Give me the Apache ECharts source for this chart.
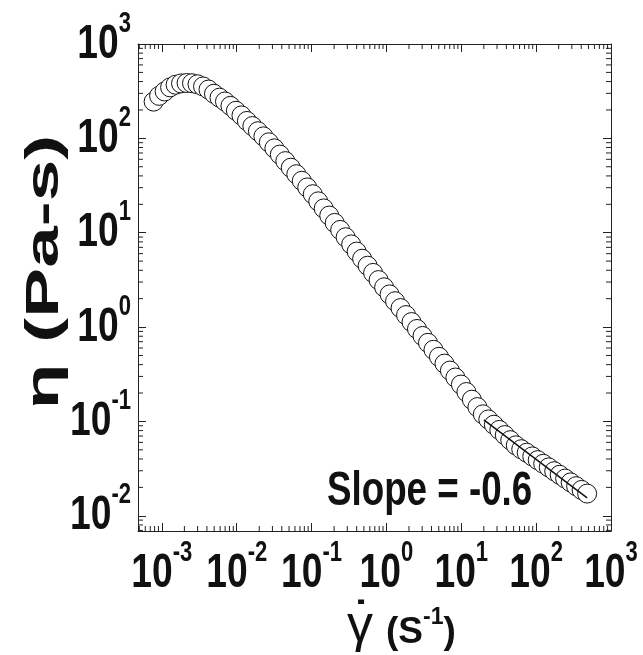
<!DOCTYPE html>
<html><head><meta charset="utf-8">
<script src="https://cdn.jsdelivr.net/npm/echarts@6/dist/echarts.min.js"></script>
<style>html,body{margin:0;padding:0;background:#fff}#c{width:643px;height:655px}</style>
</head><body><div id="c"></div>
<script>
// shear rate (1/s)
const shearRate = [0.000776,0.000918,0.001089,0.001288,0.001524,0.001803,0.002138,0.002529,0.002992,0.003548,
  0.004198,0.004966,0.005888,0.006966,0.008241,0.00975,0.01156,0.01368,0.01618,0.01919,
  0.0227,0.02685,0.03184,0.03767,0.04457,0.05272,0.06252,0.07396,0.0875,0.1038,
  0.1227,0.1452,0.1722,0.2037,0.241,0.2851,0.3381,0.3999,0.4732,0.561,
  0.6637,0.7852,0.9311,1.102,1.303,1.542,1.828,2.163,2.559,3.034,
  3.589,4.246,5.035,5.957,7.047,8.337,9.886,11.7,13.84,16.41,
  19.41,22.96,27.23,32.21,38.11,45.08,53.46,63.24,74.82,88.72,
  105,124.2,147.2,174.2,206.1,243.8,289.1,342,404.6,479.7];
// viscosity (Pa-s)
const viscosity = [245,282,314,347,370,382,386,384,374,355,
  329,297,270,246,221,196,175,153,135,119,
  105,90.8,78.4,67.3,57.4,48.9,41.7,35.5,30.2,25.6,
  21.5,18.1,15.2,12.7,10.7,8.96,7.52,6.31,5.30,4.47,
  3.75,3.15,2.64,2.22,1.88,1.59,1.34,1.13,0.955,0.805,
  0.681,0.574,0.484,0.410,0.346,0.292,0.246,0.205,0.170,0.142,
  0.119,0.105,0.0923,0.0813,0.0717,0.0633,0.0558,0.0508,0.0466,0.0426,
  0.0389,0.0356,0.0326,0.0297,0.0272,0.0248,0.0226,0.0206,0.0188,0.0172];
// power-law fit line (slope -0.6)
const fitRate = [20, 480];
const fitViscosity = [0.104, 0.0155];
const slopeLabel = 'Slope = -0.6';
const xTitle = ['γ', '(S', '-1', ')'];
const xTitleDot = '˙';
const yTitle = 'η (Pa-s)';
const xTickValues = [1e-3, 1e-2, 1e-1, 1, 1e1, 1e2, 1e3];
const yTickValues = [1e-2, 1e-1, 1, 1e1, 1e2, 1e3];
const xRange = [4.8e-4, 1000];
const yRange = [0.0069, 1000];
const minorMantissas = [2,3,4,5,6,7,8,9];
const xDecades = [-4,-3,-2,-1,0,1,2];
const yDecades = [-3,-2,-1,0,1,2];

const SANS = '"Liberation Sans",Arial,Helvetica,sans-serif';
const INK = '#111';

const points = shearRate.map((x, i) => [x, viscosity[i]]);
const fitLine = fitRate.map((x, i) => [x, fitViscosity[i]]);

const xMinor = [], yMinor = [];
xDecades.forEach(d => minorMantissas.forEach(m => {
  const v = m * Math.pow(10, d);
  if (v > xRange[0] && v < xRange[1]) xMinor.push([v, yRange[0]]);
}));
yDecades.forEach(d => minorMantissas.forEach(m => {
  const v = m * Math.pow(10, d);
  if (v > yRange[0] && v < yRange[1]) yMinor.push([xRange[0], v]);
}));

function supLabel(v) {
  const l = Math.log10(v), e = Math.round(l);
  if (Math.abs(l - e) > 1e-6) return '';
  return '{b|10}{s|' + e + '}';
}
const tickRich = {
  b: {fontFamily: SANS, fontWeight: 'bold', fontSize: 49, lineHeight: 70, fill: INK, color: INK},
  s: {fontFamily: SANS, fontWeight: 'bold', fontSize: 29, lineHeight: 12, verticalAlign: 'top', fill: INK, color: INK}
};
const lineStyle = {color: '#222', width: 1};

function axisX(pos) {
  return {
    type: 'log', position: pos, min: xRange[0], max: xRange[1],
    axisLine: {show: true, onZero: false, lineStyle},
    axisTick: {show: true, inside: true, length: 8, lineStyle},
    splitLine: {show: false}, minorTick: {show: false},
    axisLabel: {show: false}
  };
}
function axisY(pos) {
  return {
    type: 'log', position: pos, min: yRange[0], max: yRange[1],
    axisLine: {show: true, onZero: false, lineStyle},
    axisTick: {show: true, inside: true, length: 8, lineStyle},
    splitLine: {show: false}, minorTick: {show: false},
    axisLabel: {show: false}
  };
}

function xMinorRender(params, api) {
  const cs = params.coordSys;
  const x = api.coord([api.value(0), api.value(1)])[0];
  const b = cs.y + cs.height, t = cs.y;
  return {type: 'group', children: [
    {type: 'line', shape: {x1: x, y1: b, x2: x, y2: b - 5}, style: {stroke: '#222', lineWidth: 1}},
    {type: 'line', shape: {x1: x, y1: t, x2: x, y2: t + 5}, style: {stroke: '#222', lineWidth: 1}}
  ]};
}
function yMinorRender(params, api) {
  const cs = params.coordSys;
  const y = api.coord([api.value(0), api.value(1)])[1];
  const l = cs.x, r = cs.x + cs.width;
  return {type: 'group', children: [
    {type: 'line', shape: {x1: l, y1: y, x2: l + 5, y2: y}, style: {stroke: '#222', lineWidth: 1}},
    {type: 'line', shape: {x1: r, y1: y, x2: r - 5, y2: y}, style: {stroke: '#222', lineWidth: 1}}
  ]};
}

const chart = echarts.init(document.getElementById('c'), null, {renderer: 'canvas'});
chart.setOption({
  animation: false,
  backgroundColor: '#fff',
  grid: {left: 138, right: 32, top: 44, bottom: 124, containLabel: false},
  xAxis: [axisX('bottom'), axisX('top')],
  yAxis: [axisY('left'), axisY('right')],
  series: [
    {type: 'custom', renderItem: xMinorRender, data: xMinor, clip: false, silent: true, z: 1},
    {type: 'custom', renderItem: yMinorRender, data: yMinor, clip: false, silent: true, z: 1},
    {type: 'scatter', data: points, symbol: 'circle', symbolSize: 19, z: 2,
     itemStyle: {color: '#fff', borderColor: '#111', borderWidth: 1, opacity: 1}},
    {type: 'line', data: fitLine, symbol: 'none', z: 3,
     lineStyle: {color: '#111', width: 1.5}}
  ]
});

// tick labels placed through the axes' own scales
const graphics = [];
xTickValues.forEach(v => {
  graphics.push({type: 'text', x: chart.convertToPixel({xAxisIndex: 0}, v), y: 538, scaleX: 0.76, z: 10,
    style: {text: supLabel(v), rich: tickRich, align: 'center', verticalAlign: 'top'}});
});
yTickValues.forEach(v => {
  graphics.push({type: 'text', x: 131, y: chart.convertToPixel({yAxisIndex: 0}, v), scaleX: 0.76, z: 10,
    style: {text: supLabel(v), rich: tickRich, align: 'right', verticalAlign: 'middle'}});
});
// x-axis title: γ with dot, then (S^-1)
graphics.push({type: 'text', x: 360, y: 627, z: 10,
  style: {text: xTitle[0], fontFamily: SANS, fontSize: 52, fill: INK, align: 'center', verticalAlign: 'middle'}});
graphics.push({type: 'text', x: 361, y: 620, z: 10,
  style: {text: xTitleDot, fontFamily: SANS, fontWeight: 'bold', fontSize: 44, fill: INK, align: 'center', verticalAlign: 'middle'}});
graphics.push({type: 'text', x: 386, y: 606, z: 10,
  style: {text: '{b|' + xTitle[1] + '}{s|' + xTitle[2] + '}{b|' + xTitle[3] + '}',
    align: 'left', verticalAlign: 'top',
    rich: {
      b: {fontFamily: SANS, fontWeight: 'bold', fontSize: 37, lineHeight: 54, fill: INK},
      s: {fontFamily: SANS, fontWeight: 'bold', fontSize: 23, lineHeight: 8, verticalAlign: 'top', fill: INK}
    }}});
graphics.push({type: 'text', x: 327, y: 491, scaleX: 0.75, z: 10,
  style: {text: slopeLabel, fontFamily: SANS, fontWeight: 'bold', fontSize: 49,
          fill: INK, align: 'left', verticalAlign: 'middle'}});
graphics.push({type: 'text', x: 45, y: 272, rotation: Math.PI / 2, scaleX: 1.1, scaleY: 0.68, z: 10,
  style: {text: yTitle, fontFamily: SANS, fontWeight: 'bold', fontSize: 68,
          fill: INK, align: 'center', verticalAlign: 'middle'}});
chart.setOption({graphic: graphics});
</script></body></html>
